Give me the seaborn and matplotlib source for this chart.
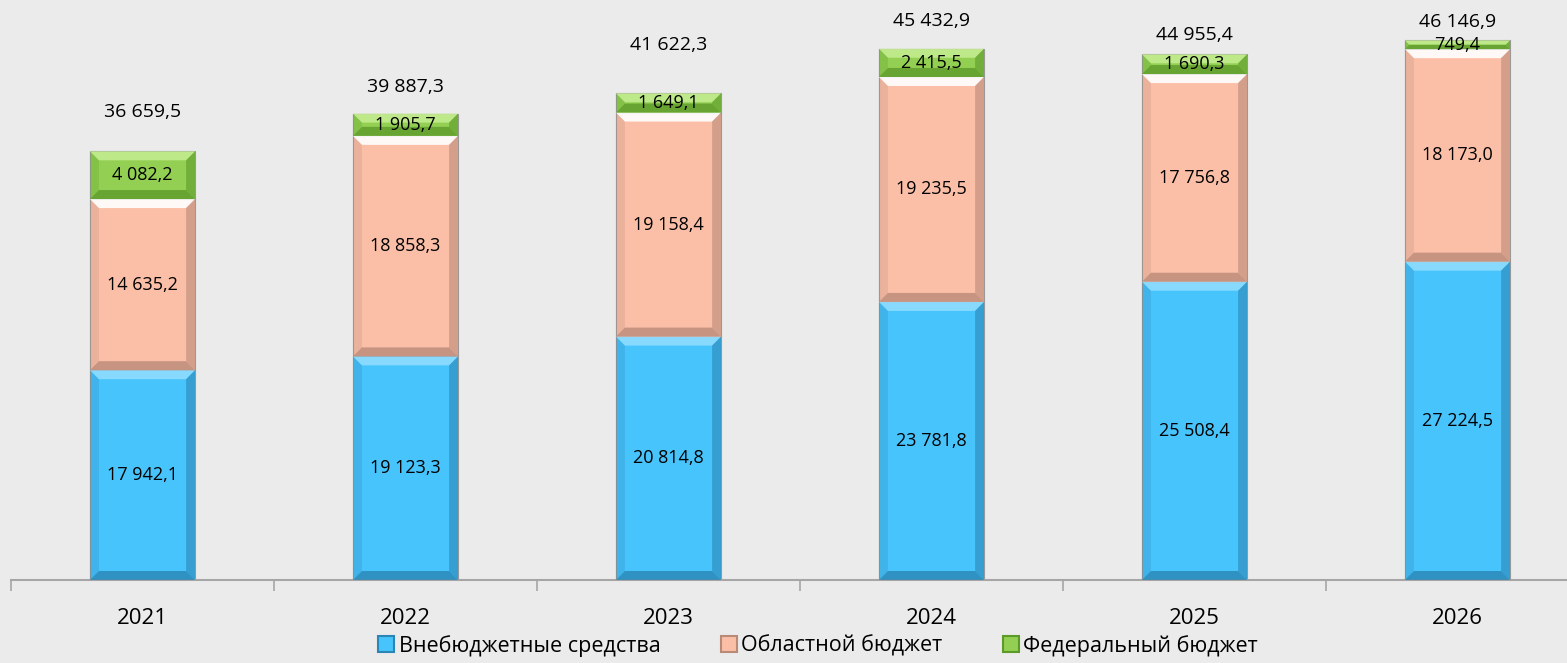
import numpy as np
import pandas as pd
import matplotlib
matplotlib.use('Agg')
import matplotlib.pyplot as plt
import seaborn as sns
from matplotlib.patches import Polygon, Patch
from matplotlib.ticker import FixedLocator

# ====== DATA

years = ['2021', '2022', '2023', '2024', '2025', '2026']
extra_budget = [17942.1, 19123.3, 20814.8, 23781.8, 25508.4, 27224.5]
regional = [14635.2, 18858.3, 19158.4, 19235.5, 17756.8, 18173.0]
federal = [4082.2, 1905.7, 1649.1, 2415.5, 1690.3, 749.4]
totals = [36659.5, 39887.3, 41622.3, 45432.9, 44955.4, 46146.9]

series_names = ['Внебюджетные средства', 'Областной бюджет', 'Федеральный бюджет']

# ====== STYLE

BG = '#EBEBEB'
colors = ['#48C4FC', '#FBBFA8', '#92CF52']
light = ['#8FDDFF', '#FFFFFF', '#C4EC90']
dark = ['#2A86B5', '#B98A78', '#5E9A2A']
# offsets (px) of the total labels above the bars, as placed in the original
total_offsets = [39, 27, 48, 28, 19, 18]

sns.set_theme(style='white')
plt.rcParams['font.family'] = ['Open Sans', 'DejaVu Sans']

fig = plt.figure(figsize=(15.67, 6.63), dpi=100, facecolor=BG)
ax = fig.add_axes([11 / 1567, 83 / 663, 1578 / 1567, 580 / 663])
ax.set_facecolor(BG)

df = pd.DataFrame({'year': years, 'extra': extra_budget, 'regional': regional, 'federal': federal})
bottoms = np.zeros(len(years))
for col, color in zip(['extra', 'regional', 'federal'], colors):
    sns.barplot(data=df, x='year', y=col, bottom=bottoms, color=color, width=0.4,
                saturation=1, edgecolor='#9A9A9A', linewidth=0.8, ax=ax)
    bottoms = bottoms + df[col].values

ax.set_xlim(-0.5, 5.5)
ax.set_ylim(0, 49600)

# bevel effect on each segment
px_x = 1.0 / 263
px_y = 49600 / 580
bev = 9
seg_series = [0] * 6 + [1] * 6 + [2] * 6
for patch, s in zip(ax.patches, seg_series):
    x0, y0 = patch.get_x(), patch.get_y()
    w, h = patch.get_width(), patch.get_height()
    x1, y1 = x0 + w, y0 + h
    bx = bev * px_x
    by = min(bev * px_y, h / 2)
    bxx = min(bx, by / px_y * px_x)
    top = Polygon([(x0, y1), (x1, y1), (x1 - bxx, y1 - by), (x0 + bxx, y1 - by)],
                  closed=True, facecolor=light[s], edgecolor='none', alpha=0.9, zorder=3)
    right = Polygon([(x1, y1), (x1, y0), (x1 - bxx, y0 + by), (x1 - bxx, y1 - by)],
                    closed=True, facecolor=dark[s], edgecolor='none', alpha=0.6, zorder=3)
    bottom = Polygon([(x0, y0), (x1, y0), (x1 - bxx, y0 + by), (x0 + bxx, y0 + by)],
                     closed=True, facecolor=dark[s], edgecolor='none', alpha=0.8, zorder=3)
    left = Polygon([(x0, y0), (x0, y1), (x0 + bxx, y1 - by), (x0 + bxx, y0 + by)],
                   closed=True, facecolor=dark[s], edgecolor='none', alpha=0.25, zorder=3)
    for p in (top, right, bottom, left):
        ax.add_patch(p)


def fmt(v):
    s = f'{v:,.1f}'.replace(',', ' ').replace('.', ',')
    return s


# segment labels
for i in range(len(years)):
    base = 0
    for vals in (extra_budget, regional, federal):
        ax.text(i, base + vals[i] / 2, fmt(vals[i]), ha='center', va='center',
                fontsize=13, color='black', zorder=5)
        base += vals[i]
    ax.annotate(fmt(totals[i]), (i, totals[i]), xytext=(0, total_offsets[i]),
                textcoords='offset pixels', ha='center', va='center', fontsize=14, color='black')

# axes styling
for side in ['top', 'left', 'right']:
    ax.spines[side].set_visible(False)
ax.spines['bottom'].set_color('#A6A6A6')
ax.spines['bottom'].set_linewidth(1.5)
ax.set_yticks([])
ax.set_xlabel('')
ax.set_ylabel('')
ax.xaxis.set_minor_locator(FixedLocator(np.arange(-0.5, 6, 1)))
ax.tick_params(axis='x', which='major', bottom=False, length=0, pad=20, labelsize=16, labelcolor='black')
ax.tick_params(axis='x', which='minor', bottom=True, length=8, width=1.2, color='#A6A6A6', direction='out')

handles = [Patch(facecolor=c, edgecolor=d, linewidth=1.5) for c, d in zip(colors, dark)]
fig.legend(handles, series_names, loc='center', bbox_to_anchor=(0.522, 0.026), ncol=3,
           frameon=False, fontsize=15.5, handlelength=0.75, handleheight=0.75,
           handletextpad=0.2, columnspacing=2.8, labelcolor='black', borderpad=0)

fig.savefig('out.png', dpi=100, facecolor=BG)
